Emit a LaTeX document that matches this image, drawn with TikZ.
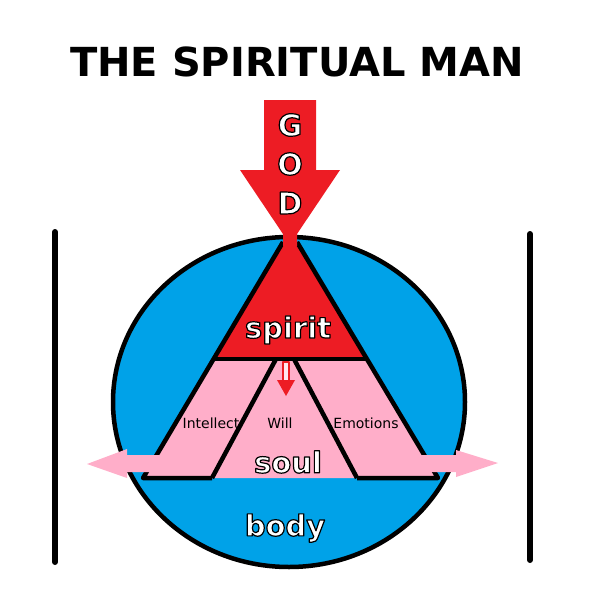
\documentclass[tikz,border=0pt]{standalone}
\usepackage{fontspec}
\setmainfont{DejaVu Sans}
\definecolor{godred}{HTML}{ED1C24}
\definecolor{bodyblue}{HTML}{00A2E8}
\definecolor{soulpink}{HTML}{FFAEC9}
\newcommand\outlined[1]{\special{pdf:literal direct 2 Tr 1.2 w 0 0 0 RG}#1\special{pdf:literal direct 0 Tr}}
\begin{document}
\begin{tikzpicture}
  [x=1pt, y=-1pt, line join=round,
   border/.style={draw=black, line width=4.5pt},
   bar/.style={line width=6pt, line cap=round},
   biglabel/.style={text=white, font=\bfseries\fontsize{29}{29}\selectfont},
   godletter/.style={text=white, font=\bfseries\fontsize{30}{30}\selectfont},
   smalllabel/.style={text=black, font=\fontsize{14}{14}\selectfont}]
\useasboundingbox (0,0) rectangle (600,600);
\node[font=\bfseries\fontsize{40}{40}\selectfont] (title) at (297,62) {THE SPIRITUAL MAN};
% the man
\draw[border, fill=bodyblue] (289,402) ellipse [x radius=176, y radius=165];
\fill[soulpink] (214,359) -- (366,359) -- (438,478) -- (143,478) -- cycle;
\fill[godred] (283,244) -- (297,244) -- (366,359) -- (214,359) -- cycle;
\draw[border] (283,242) -- (143,478) -- (212,478);
\draw[border] (297,242) -- (438,478) -- (357,478);
\draw[border] (214,359) -- (366,359);
\draw[border] (276,359) -- (212,478);
\draw[border] (294,359) -- (357,478);
% arrows
\fill[godred] (264,100) -- (316,100) -- (316,170) -- (340,170) -- (297,234) -- (297,246)
  -- (283,246) -- (283,234) -- (240,170) -- (264,170) -- cycle;
\filldraw[draw=godred, fill=soulpink!30, line width=1.5pt] (283,362) -- (289,362) -- (289,382) -- (283,382) -- cycle;
\fill[godred] (277,380) -- (295,380) -- (286,396) -- cycle;
\fill[soulpink] (160,455) -- (127,455) -- (127,449) -- (87,464) -- (127,478) -- (127,472) -- (160,472) -- cycle;
\fill[soulpink] (420,455) -- (456,455) -- (456,450) -- (498,463) -- (456,477) -- (456,472) -- (420,472) -- cycle;
\draw[bar] (55,232) -- (55,562);
\draw[bar] (530,234) -- (530,560);
% labels
\node[godletter] (g) at (290,125) {\outlined{G}};
\node[godletter] (o) at (290,164) {\outlined{O}};
\node[godletter] (d) at (290,203) {\outlined{D}};
\node[biglabel] (spirit) at (288,330) {\outlined{spirit}};
\node[biglabel] (soul) at (288,462) {\outlined{soul}};
\node[biglabel] (body) at (285,528) {\outlined{body}};
\node[smalllabel] (intellect) at (211,423) {Intellect};
\node[smalllabel] (will) at (280,423) {Will};
\node[smalllabel] (emotions) at (366,423) {Emotions};
\end{tikzpicture}
\end{document}
